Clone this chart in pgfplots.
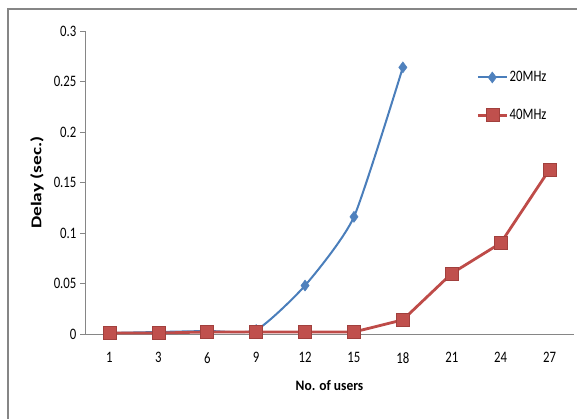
\documentclass[border=0pt]{standalone}
\usepackage{pgfplots}
\pgfplotsset{compat=1.18}
\usepackage{fontspec}
\setmainfont{Carlito}
\definecolor{blueline}{HTML}{4A7EBB}
\definecolor{bluemark}{HTML}{4F81BD}
\definecolor{redline}{HTML}{BE4B48}
\definecolor{redmark}{HTML}{C0504D}
\definecolor{axisgray}{HTML}{868686}
\begin{document}
\begin{tikzpicture}[x=1bp,y=1bp]
\path[use as bounding box] (0,0) rectangle (577,419);
\draw[axisgray,line width=1.2bp] (8,0) -- (8,410) -- (577,410);
\begin{axis}[
    at={(85bp,85bp)}, anchor=south west,
    scale only axis,
    width=489bp, height=303bp,
    xmin=0.5, xmax=10.5,
    ymin=0, ymax=0.3,
    axis lines*=left,
    axis line style={axisgray, line width=0.8bp},
    xtick={1,...,10},
    xticklabels={1,3,6,9,12,15,18,21,24,27},
    major x tick style={draw=none},
    extra x ticks={0.5,1.5,...,10.5},
    extra x tick labels={},
    extra x tick style={tick style={axisgray, line width=0.8bp}, major tick length=5bp},
    tick align=outside,
    ytick={0,0.05,...,0.3},
    yticklabels={0,0.05,0.1,0.15,0.2,0.25,0.3},
    y tick style={axisgray, line width=0.8bp},
    major tick length=5bp,
    ticklabel style={font=\fontsize{16}{18}\selectfont, xscale=0.8, text=black},
    xticklabel style={yshift=-10bp},
    yticklabel style={xshift=-1bp},
    xlabel={\textbf{No. of users}},
    ylabel={\textbf{Delay (sec.)}},
    xlabel style={font=\fontsize{14.5}{16}\selectfont, xscale=0.93,
        at={(axis description cs:0.5,0)}, anchor=center, yshift=-52bp},
    ylabel style={font=\fontsize{15}{17}\selectfont, xscale=1.3,
        at={(axis description cs:-0.098,0.5)}, anchor=center},
    legend style={draw=none, fill=none, at={(axis description cs:0.80,0.88)}, anchor=north west,
        font=\fontsize{16}{18}\selectfont, row sep=22bp,
        legend cell align=left, inner xsep=0pt,
        nodes={inner xsep=1.5bp}},
    legend image code/.code={
        \draw[mark repeat=2, mark phase=2, #1]
            plot coordinates {(0bp,0bp) (14.5bp,0bp) (29bp,0bp)};},
    clip=false,
]
\addplot[color=blueline, line width=2bp, smooth, tension=0.35,
    mark=diamond*, mark size=5.5bp,
    mark options={fill=bluemark, draw=bluemark, line width=0.5bp}] coordinates {
    (1,0.001) (2,0.002) (3,0.003) (4,0.004) (5,0.048) (6,0.116) (7,0.264)
};
\addlegendentry{\scalebox{0.8}[1]{20MHz}}
\addplot[color=redline, line width=2.8bp,
    mark=square*, mark size=6.5bp,
    mark options={fill=redmark, draw=redline!85!black, line width=0.6bp}] coordinates {
    (1,0.001) (2,0.001) (3,0.002) (4,0.002) (5,0.002) (6,0.002) (7,0.014) (8,0.060) (9,0.090) (10,0.163)
};
\addlegendentry{\scalebox{0.8}[1]{40MHz}}
\end{axis}
\end{tikzpicture}
\end{document}
